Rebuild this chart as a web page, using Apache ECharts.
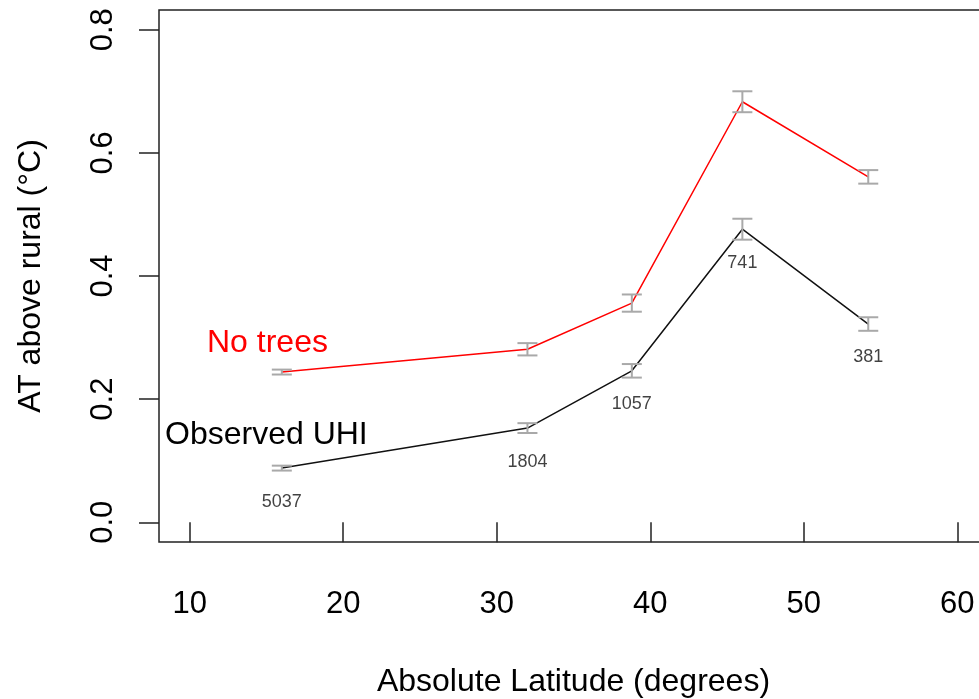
<!DOCTYPE html>
<html>
<head>
<meta charset="utf-8">
<script src="https://cdn.jsdelivr.net/npm/echarts@6/dist/echarts.min.js"></script>
<style>
  html, body { margin: 0; padding: 0; background: #fff; }
  #chart { width: 979px; height: 699px; }
</style>
</head>
<body>
<div id="chart"></div>
<script>
var lat = [16, 32, 38.8, 46, 54.2];
var noTrees = [0.244, 0.281, 0.356, 0.683, 0.561];
var noTreesErr = [0.004, 0.010, 0.014, 0.017, 0.011];
var observed = [0.088, 0.153, 0.246, 0.476, 0.322];
var observedErr = [0.004, 0.008, 0.011, 0.017, 0.011];
var counts = [5037, 1804, 1057, 741, 381];
var xTicks = [10, 20, 30, 40, 50, 60];
var yTicks = [0, 0.2, 0.4, 0.6, 0.8];

var FONT = '"Liberation Sans", Arial, sans-serif';

function pairs(ys) {
    return lat.map(function(x, i) { return [x, ys[i]]; });
}

function bars(ys, errs) {
    return lat.map(function(x, i) { return [x, ys[i] - errs[i], ys[i] + errs[i]]; });
}

function renderErrorBar(params, api) {
    var x = api.value(0);
    var lo = api.coord([x, api.value(1)]);
    var hi = api.coord([x, api.value(2)]);
    var w = 10;
    var style = { stroke: '#a9a9a9', lineWidth: 2 };
    return {
        type: 'group',
        children: [
            { type: 'line', shape: { x1: lo[0], y1: lo[1], x2: hi[0], y2: hi[1] }, style: style },
            { type: 'line', shape: { x1: lo[0] - w, y1: lo[1], x2: lo[0] + w, y2: lo[1] }, style: style },
            { type: 'line', shape: { x1: hi[0] - w, y1: hi[1], x2: hi[0] + w, y2: hi[1] }, style: style }
        ]
    };
}

var myChart = echarts.init(document.getElementById('chart'));
var option = {
    animation: false,
    backgroundColor: '#fff',
    textStyle: { fontFamily: FONT },
    grid: {
        left: 159,
        top: 10,
        right: -9,
        bottom: 157,
        show: true,
        borderColor: '#222',
        borderWidth: 1.5,
        containLabel: false,
        outerBoundsMode: 'none'
    },
    xAxis: {
        type: 'value',
        min: 8,
        max: 62,
        splitLine: { show: false },
        axisLine: { show: false },
        axisTick: {
            show: true,
            customValues: xTicks,
            length: 20,
            lineStyle: { color: '#222', width: 1.5 }
        },
        axisLabel: {
            customValues: xTicks,
            margin: 47,
            fontSize: 31,
            color: '#000',
            fontFamily: FONT
        },
        name: 'Absolute Latitude (degrees)',
        nameLocation: 'middle',
        nameGap: 124,
        nameTextStyle: { fontSize: 32, color: '#000', fontFamily: FONT }
    },
    yAxis: {
        type: 'value',
        min: -0.032,
        max: 0.832,
        splitLine: { show: false },
        axisLine: { show: false },
        axisTick: {
            show: true,
            customValues: yTicks,
            length: 20,
            lineStyle: { color: '#222', width: 1.5 }
        },
        axisLabel: {
            customValues: yTicks,
            rotate: 90,
            margin: 40,
            fontSize: 31,
            color: '#000',
            fontFamily: FONT,
            formatter: function(v) { return v.toFixed(1); }
        },
        name: 'AT above rural (°C)',
        nameLocation: 'middle',
        nameRotate: 90,
        nameGap: 112,
        nameTextStyle: { fontSize: 32, color: '#000', fontFamily: FONT }
    },
    graphic: [
        {
            type: 'text',
            left: 207,
            top: 327,
            style: { text: 'No trees', fill: '#ff0000', font: '32px ' + FONT }
        },
        {
            type: 'text',
            left: 165,
            top: 419,
            style: { text: 'Observed UHI', fill: '#000', font: '32px ' + FONT }
        }
    ],
    series: [
        {
            name: 'No trees',
            type: 'line',
            data: pairs(noTrees),
            symbol: 'none',
            lineStyle: { color: '#ff0000', width: 1.5 },
            z: 2
        },
        {
            name: 'Observed UHI',
            type: 'line',
            data: pairs(observed),
            symbol: 'none',
            lineStyle: { color: '#111', width: 1.5 },
            z: 2
        },
        {
            name: 'No trees SE',
            type: 'custom',
            renderItem: renderErrorBar,
            data: bars(noTrees, noTreesErr),
            z: 3
        },
        {
            name: 'Observed SE',
            type: 'custom',
            renderItem: renderErrorBar,
            data: bars(observed, observedErr),
            z: 3
        },
        {
            name: 'Counts',
            type: 'scatter',
            data: pairs(observed),
            symbolSize: 1,
            itemStyle: { color: 'transparent' },
            label: {
                show: true,
                position: 'bottom',
                distance: 24,
                fontSize: 18,
                color: '#111',
                fontFamily: FONT,
                formatter: function(p) { return String(counts[p.dataIndex]); }
            },
            silent: true
        }
    ]
};
myChart.setOption(option);
</script>
</body>
</html>
